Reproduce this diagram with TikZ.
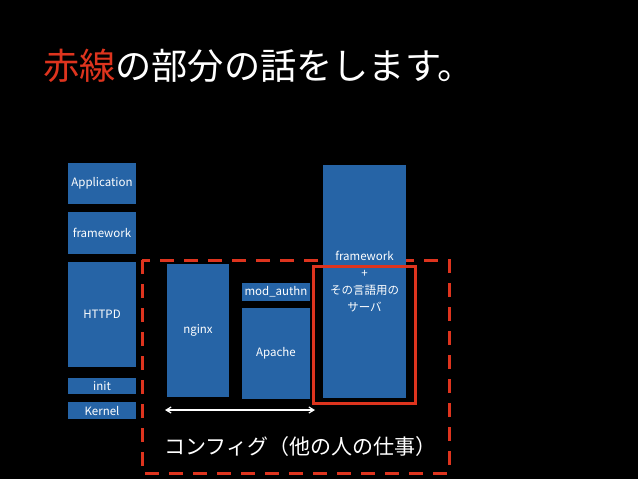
\documentclass[tikz,border=0pt]{standalone}
\usepackage{fontspec}
\setmainfont{Noto Sans CJK JP}
\usetikzlibrary{arrows.meta}
\definecolor{boxblue}{RGB}{38,100,166}
\definecolor{hired}{RGB}{222,52,30}
\tikzset{
  blk/.style={fill=boxblue, draw=none, inner sep=0pt, text=white, font=\fontsize{11.5}{17}\selectfont, align=center},
  redframe/.style={draw=hired, line width=3pt},
  reddash/.style={draw=hired, line width=3pt, dash pattern=on 14pt off 10pt},
  span/.style={draw=white, line width=1.2pt, {Straight Barb[length=5pt,width=6pt]}-{Straight Barb[length=5pt,width=6pt]}}
}
\begin{document}
\begin{tikzpicture}[x=1pt,y=-1pt]
\useasboundingbox[fill=black] (0,0) rectangle (638,479);
\node[anchor=west, inner sep=0pt, font=\fontsize{36.2}{40}\selectfont, text=white] (title) at (43,66) {\textcolor{hired}{赤線}の部分の話をします。};
% dashed frame behind boxes
\draw[reddash] (142,260) rectangle (449,473);
% left column
\node[blk, minimum width=68pt, minimum height=41pt] (app) at (102,183.5) {Application};
\node[blk, minimum width=68pt, minimum height=42pt] (fw1) at (102,233) {framework};
\node[blk, minimum width=68pt, minimum height=105pt] (httpd) at (102,314.5) {HTTPD};
\node[blk, minimum width=68pt, minimum height=16pt] (init) at (102,386) {init};
\node[blk, minimum width=68pt, minimum height=17pt] (kernel) at (102,410.5) {Kernel};
% servers
\node[blk, minimum width=62pt, minimum height=133pt] (nginx) at (198,330.5) {nginx};
\node[blk, minimum width=68pt, minimum height=18pt] (modauthn) at (276,292) {mod\_authn};
\node[blk, minimum width=68pt, minimum height=91pt] (apache) at (276,353.5) {Apache};
\node[blk, minimum width=83pt, minimum height=233pt] (fw2) at (364.5,281.5) {framework\\+\\その言語用の\\サーバ};
% solid frame
\draw[redframe] (313,266) rectangle (415,403);
% arrow
\coordinate (al) at (165,410);
\coordinate (ar) at (315,410);
\draw[span] (al) -- (ar);
\node[anchor=west, inner sep=0pt, text=white, font=\fontsize{21}{24}\selectfont] (cfg) at (164,447) {コンフィグ（他の人の仕事）};
\end{tikzpicture}
\end{document}
